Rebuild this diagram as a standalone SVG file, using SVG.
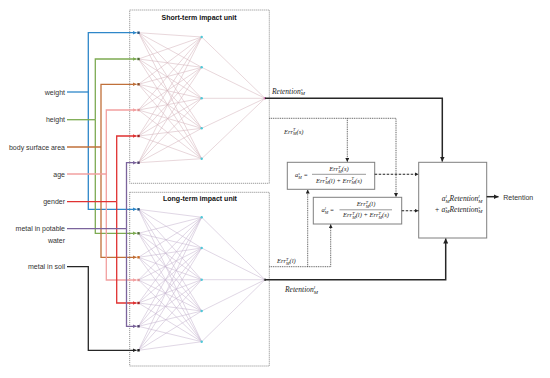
<svg xmlns="http://www.w3.org/2000/svg" width="550" height="378" viewBox="0 0 550 378">
<style>
.lbl{font-family:"Liberation Sans",Arial,sans-serif;font-size:7px;fill:#333}
.ttl{font-family:"Liberation Sans",Arial,sans-serif;font-size:7px;font-weight:bold;fill:#111}
.m{font-family:"Liberation Serif","Times New Roman",serif;font-style:italic;font-size:6.5px;fill:#222}
.mr{font-family:"Liberation Serif","Times New Roman",serif;font-style:italic;font-size:7.5px;fill:#222}
.s{font-size:4.2px}
.s5{font-size:5px}
.unit{fill:none;stroke:#555;stroke-width:0.7;stroke-dasharray:1 1}
.box{fill:#fff;stroke:#7f7f7f;stroke-width:1}
.es{fill:none;stroke:#d5b6bd;stroke-width:0.55}
.el{fill:none;stroke:#c6b6cf;stroke-width:0.55}
.in{fill:none;stroke-width:1.3}
.thick{fill:none;stroke:#262626;stroke-width:1.5}
.dot{fill:none;stroke:#333;stroke-width:0.8;stroke-dasharray:1 0.8}
.dash{fill:none;stroke:#222;stroke-width:1.1;stroke-dasharray:2.5 1.5}
.hid{fill:#4ec9d8}
</style>
<defs>
<marker id="aB" viewBox="0 0 6 6" refX="6" refY="3" markerWidth="4" markerHeight="4" orient="auto" markerUnits="userSpaceOnUse"><path d="M0 0L6 3L0 6z" fill="#2e87c9"/></marker>
<marker id="aG" viewBox="0 0 6 6" refX="6" refY="3" markerWidth="4" markerHeight="4" orient="auto" markerUnits="userSpaceOnUse"><path d="M0 0L6 3L0 6z" fill="#7dab52"/></marker>
<marker id="aO" viewBox="0 0 6 6" refX="6" refY="3" markerWidth="4" markerHeight="4" orient="auto" markerUnits="userSpaceOnUse"><path d="M0 0L6 3L0 6z" fill="#c0703a"/></marker>
<marker id="aP" viewBox="0 0 6 6" refX="6" refY="3" markerWidth="4" markerHeight="4" orient="auto" markerUnits="userSpaceOnUse"><path d="M0 0L6 3L0 6z" fill="#f2a0a0"/></marker>
<marker id="aR" viewBox="0 0 6 6" refX="6" refY="3" markerWidth="4" markerHeight="4" orient="auto" markerUnits="userSpaceOnUse"><path d="M0 0L6 3L0 6z" fill="#e03232"/></marker>
<marker id="aV" viewBox="0 0 6 6" refX="6" refY="3" markerWidth="4" markerHeight="4" orient="auto" markerUnits="userSpaceOnUse"><path d="M0 0L6 3L0 6z" fill="#7b649c"/></marker>
<marker id="aK" viewBox="0 0 6 6" refX="6" refY="3" markerWidth="4" markerHeight="4" orient="auto" markerUnits="userSpaceOnUse"><path d="M0 0L6 3L0 6z" fill="#222"/></marker>
<marker id="aT" viewBox="0 0 6 6" refX="6" refY="3" markerWidth="5" markerHeight="5" orient="auto" markerUnits="userSpaceOnUse"><path d="M0 0L6 3L0 6z" fill="#222"/></marker>
</defs>
<rect width="550" height="378" fill="#fff"/>

<g id="input-weight"><text class="lbl" x="65" y="94.5" text-anchor="end">weight</text></g>
<g id="input-height"><text class="lbl" x="65" y="122" text-anchor="end">height</text></g>
<g id="input-bsa"><text class="lbl" x="65" y="149.5" text-anchor="end">body surface area</text></g>
<g id="input-age"><text class="lbl" x="65" y="176.5" text-anchor="end">age</text></g>
<g id="input-gender"><text class="lbl" x="65" y="204" text-anchor="end">gender</text></g>
<g id="input-water"><text class="lbl" x="65" y="231" text-anchor="end">metal in potable</text><text class="lbl" x="65" y="242.5" text-anchor="end">water</text></g>
<g id="input-soil"><text class="lbl" x="65" y="269" text-anchor="end">metal in soil</text></g>

<g id="short-term-unit">
<rect class="unit" x="129.7" y="10" width="139.6" height="173.3"/>
<text class="ttl" x="199" y="19.5" text-anchor="middle">Short-term impact unit</text>
<path class="es" d="M138.5 32.7L201.7 37M138.5 32.7L201.7 67.3M138.5 32.7L201.7 98.3M138.5 32.7L201.7 128.3M138.5 32.7L201.7 158.7M138.5 59L201.7 37M138.5 59L201.7 67.3M138.5 59L201.7 98.3M138.5 59L201.7 128.3M138.5 59L201.7 158.7M138.5 84.3L201.7 37M138.5 84.3L201.7 67.3M138.5 84.3L201.7 98.3M138.5 84.3L201.7 128.3M138.5 84.3L201.7 158.7M138.5 110L201.7 37M138.5 110L201.7 67.3M138.5 110L201.7 98.3M138.5 110L201.7 128.3M138.5 110L201.7 158.7M138.5 136L201.7 37M138.5 136L201.7 67.3M138.5 136L201.7 98.3M138.5 136L201.7 128.3M138.5 136L201.7 158.7M138.5 162.7L201.7 37M138.5 162.7L201.7 67.3M138.5 162.7L201.7 98.3M138.5 162.7L201.7 128.3M138.5 162.7L201.7 158.7M201.7 37L265 98.3M201.7 67.3L265 98.3M201.7 98.3L265 98.3M201.7 128.3L265 98.3M201.7 158.7L265 98.3"/>
<rect x="137.3" y="31.5" width="2.4" height="2.4" fill="#1f4f7a"/>
<rect x="137.3" y="57.8" width="2.4" height="2.4" fill="#4f6d33"/>
<rect x="137.3" y="83.1" width="2.4" height="2.4" fill="#8a4a22"/>
<rect x="137.3" y="108.8" width="2.4" height="2.4" fill="#e09090"/>
<rect x="137.3" y="134.8" width="2.4" height="2.4" fill="#a02020"/>
<rect x="137.3" y="161.5" width="2.4" height="2.4" fill="#4a3a66"/>
<circle class="hid" cx="201.7" cy="37" r="1.2"/><circle class="hid" cx="201.7" cy="67.3" r="1.2"/><circle class="hid" cx="201.7" cy="98.3" r="1.2"/><circle class="hid" cx="201.7" cy="128.3" r="1.2"/><circle class="hid" cx="201.7" cy="158.7" r="1.2"/>
<circle cx="265" cy="98.3" r="1.2" fill="#d77ab8"/>
</g>

<g id="long-term-unit">
<rect class="unit" x="129.7" y="192.3" width="139.6" height="173.7"/>
<text class="ttl" x="200" y="201" text-anchor="middle">Long-term impact unit</text>
<path class="el" d="M138.5 209.3L201.7 217.3M138.5 209.3L201.7 248M138.5 209.3L201.7 279.7M138.5 209.3L201.7 311M138.5 209.3L201.7 341.7M138.5 233.3L201.7 217.3M138.5 233.3L201.7 248M138.5 233.3L201.7 279.7M138.5 233.3L201.7 311M138.5 233.3L201.7 341.7M138.5 257.3L201.7 217.3M138.5 257.3L201.7 248M138.5 257.3L201.7 279.7M138.5 257.3L201.7 311M138.5 257.3L201.7 341.7M138.5 280L201.7 217.3M138.5 280L201.7 248M138.5 280L201.7 279.7M138.5 280L201.7 311M138.5 280L201.7 341.7M138.5 303L201.7 217.3M138.5 303L201.7 248M138.5 303L201.7 279.7M138.5 303L201.7 311M138.5 303L201.7 341.7M138.5 326.3L201.7 217.3M138.5 326.3L201.7 248M138.5 326.3L201.7 279.7M138.5 326.3L201.7 311M138.5 326.3L201.7 341.7M138.5 350.3L201.7 217.3M138.5 350.3L201.7 248M138.5 350.3L201.7 279.7M138.5 350.3L201.7 311M138.5 350.3L201.7 341.7M201.7 217.3L265 279.7M201.7 248L265 279.7M201.7 279.7L265 279.7M201.7 311L265 279.7M201.7 341.7L265 279.7"/>
<rect x="137.3" y="208.1" width="2.4" height="2.4" fill="#1f4f7a"/>
<rect x="137.3" y="232.1" width="2.4" height="2.4" fill="#4f6d33"/>
<rect x="137.3" y="256.1" width="2.4" height="2.4" fill="#c86a20"/>
<rect x="137.3" y="278.8" width="2.4" height="2.4" fill="#e09090"/>
<rect x="137.3" y="301.8" width="2.4" height="2.4" fill="#a02020"/>
<rect x="137.3" y="325.1" width="2.4" height="2.4" fill="#4a3a66"/>
<rect x="137.3" y="349.1" width="2.4" height="2.4" fill="#111"/>
<circle class="hid" cx="201.7" cy="217.3" r="1.2"/><circle class="hid" cx="201.7" cy="248" r="1.2"/><circle class="hid" cx="201.7" cy="279.7" r="1.2"/><circle class="hid" cx="201.7" cy="311" r="1.2"/><circle class="hid" cx="201.7" cy="341.7" r="1.2"/>
<circle cx="265" cy="279.7" r="1.2" fill="#555"/>
</g>

<g id="weight-short-box">
<rect class="box" x="287.3" y="162.3" width="87.4" height="27"/>
<text class="m" x="295" y="177.3">a<tspan class="s" dy="-2.3">s</tspan><tspan class="s" dx="-1.6" dy="4">M</tspan><tspan dy="-1.7"> =</tspan></text>
<text class="m" x="339" y="171.3" text-anchor="middle">Err<tspan class="s" dy="-2.3">T</tspan><tspan class="s" dx="-2.3" dy="4">M</tspan><tspan dy="-1.7">(s)</tspan></text>
<path d="M312 174.3H366" stroke="#333" stroke-width="0.5"/>
<text class="m" x="339" y="182.5" text-anchor="middle">Err<tspan class="s" dy="-2.3">T</tspan><tspan class="s" dx="-2.3" dy="4">M</tspan><tspan dy="-1.7">(l) + Err</tspan><tspan class="s" dy="-2.3">T</tspan><tspan class="s" dx="-2.3" dy="4">M</tspan><tspan dy="-1.7">(s)</tspan></text>
</g>

<g id="weight-long-box">
<rect class="box" x="313.3" y="197.3" width="88.4" height="26.7"/>
<text class="m" x="321.5" y="212.3">a<tspan class="s" dy="-2.3">l</tspan><tspan class="s" dx="-1.2" dy="4">M</tspan><tspan dy="-1.7"> =</tspan></text>
<text class="m" x="366" y="206.3" text-anchor="middle">Err<tspan class="s" dy="-2.3">T</tspan><tspan class="s" dx="-2.3" dy="4">M</tspan><tspan dy="-1.7">(l)</tspan></text>
<path d="M339.5 209.8H392" stroke="#333" stroke-width="0.5"/>
<text class="m" x="366" y="217.3" text-anchor="middle">Err<tspan class="s" dy="-2.3">T</tspan><tspan class="s" dx="-2.3" dy="4">M</tspan><tspan dy="-1.7">(l) + Err</tspan><tspan class="s" dy="-2.3">T</tspan><tspan class="s" dx="-2.3" dy="4">M</tspan><tspan dy="-1.7">(s)</tspan></text>
</g>

<g id="combine-box">
<rect class="box" x="418.7" y="162.3" width="68" height="75.7"/>
<text class="mr" x="482.5" y="200.7" text-anchor="end">a<tspan class="s5" dy="-2.6">l</tspan><tspan class="s5" dx="-1.4" dy="4.4">M</tspan><tspan dy="-1.8">Retention</tspan><tspan class="s5" dy="-2.6">l</tspan><tspan class="s5" dx="-1.4" dy="4.4">M</tspan></text>
<text class="mr" x="482.5" y="211.5" text-anchor="end">+ a<tspan class="s5" dy="-2.6">s</tspan><tspan class="s5" dx="-1.9" dy="4.4">M</tspan><tspan dy="-1.8">Retention</tspan><tspan class="s5" dy="-2.6">s</tspan><tspan class="s5" dx="-1.9" dy="4.4">M</tspan></text>
</g>

<g id="output"><text class="lbl" x="503.3" y="199.5">Retention</text></g>

<g id="connectors">
<path class="in" stroke="#2e87c9" d="M67 92H88.3"/>
<path class="in" stroke="#2e87c9" d="M88.3 92V32.7H136.5" marker-end="url(#aB)"/>
<path class="in" stroke="#2e87c9" d="M88.3 92V209.3H136.5" marker-end="url(#aB)"/>
<path class="in" stroke="#7dab52" d="M67 119.7H95.3"/>
<path class="in" stroke="#7dab52" d="M95.3 119.7V59H136.5" marker-end="url(#aG)"/>
<path class="in" stroke="#7dab52" d="M95.3 119.7V233.3H136.5" marker-end="url(#aG)"/>
<path class="in" stroke="#c0703a" d="M67 147H101"/>
<path class="in" stroke="#c0703a" d="M101 147V84.3H136.5" marker-end="url(#aO)"/>
<path class="in" stroke="#c0703a" d="M101 147V257.3H136.5" marker-end="url(#aO)"/>
<path class="in" stroke="#f2a0a0" stroke-width="1" d="M67 174H106.3"/>
<path class="in" stroke="#f2a0a0" stroke-width="1" d="M106.3 174V110H136.5" marker-end="url(#aP)"/>
<path class="in" stroke="#f2a0a0" stroke-width="1" d="M106.3 174V280H136.5" marker-end="url(#aP)"/>
<path class="in" stroke="#e03232" d="M67 201.7H116.7"/>
<path class="in" stroke="#e03232" d="M116.7 201.7V136H136.5" marker-end="url(#aR)"/>
<path class="in" stroke="#e03232" d="M116.7 201.7V303H136.5" marker-end="url(#aR)"/>
<path class="in" stroke="#7b649c" d="M67 228.7H126.5"/>
<path class="in" stroke="#7b649c" d="M126.5 228.7V162.7H136.5" marker-end="url(#aV)"/>
<path class="in" stroke="#7b649c" d="M126.5 228.7V326.3H136.5" marker-end="url(#aV)"/>
<path class="in" stroke="#262626" d="M67 266.7H88.3V350.3H136.5" marker-end="url(#aK)"/>

<path class="thick" d="M265 98.3H442.3V161.5" marker-end="url(#aT)"/>
<path class="thick" d="M265 279.7H445.7V238.5" marker-end="url(#aT)"/>
<path class="thick" d="M486.7 196.7H498.5" marker-end="url(#aT)"/>
<path class="dot" d="M269.3 118.3H396V197" marker-end="url(#aK)"/>
<path class="dot" d="M347.3 118.3V162" marker-end="url(#aK)"/>
<path class="dot" d="M269.3 266.7H330.7V224.3" marker-end="url(#aK)"/>
<path class="dot" d="M307.7 266.7V189.6" marker-end="url(#aK)"/>
<path class="dash" d="M374.7 174.3H418.5" marker-end="url(#aK)"/>
<path class="dash" d="M401.7 210.7H418.5" marker-end="url(#aK)"/>
</g>

<g id="connector-labels">
<text class="mr" x="272" y="93.5">Retention<tspan class="s5" dy="-2.6">s</tspan><tspan class="s5" dx="-1.9" dy="4.4">M</tspan></text>
<text class="m" x="284" y="133.5">Err<tspan class="s" dy="-2.3">T</tspan><tspan class="s" dx="-2.3" dy="4">M</tspan><tspan dy="-1.7">(s)</tspan></text>
<text class="m" x="277" y="263">Err<tspan class="s" dy="-2.3">T</tspan><tspan class="s" dx="-2.3" dy="4">M</tspan><tspan dy="-1.7">(l)</tspan></text>
<text class="mr" x="285" y="292">Retention<tspan class="s5" dy="-2.6">l</tspan><tspan class="s5" dx="-1.4" dy="4.4">M</tspan></text>
</g>
</svg>
